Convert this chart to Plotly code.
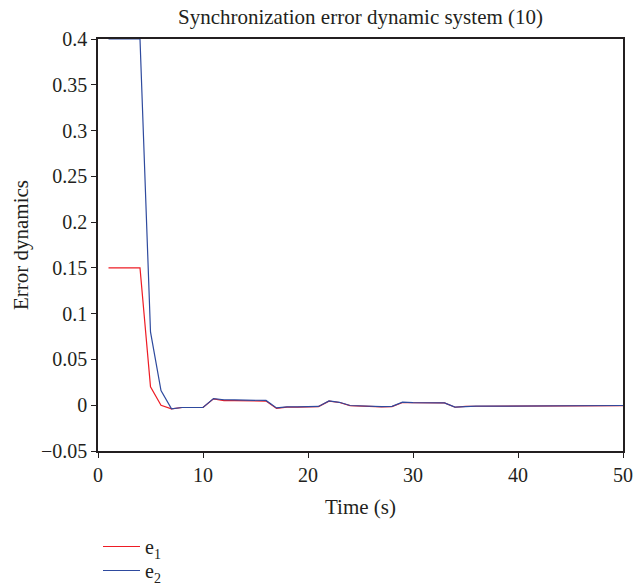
import plotly.graph_objects as go

time_s = list(range(1, 51))
e1 = [0.15, 0.15, 0.15, 0.15, 0.02, 0.0, -0.004, -0.0025, -0.0025, -0.0025,
      0.007, 0.005, 0.005, 0.005, 0.0047, 0.0045, -0.0035, -0.002, -0.002, -0.0018,
      -0.0015, 0.0045, 0.003, -0.0005, -0.001, -0.002, -0.0018, -0.0015, 0.003, 0.0027,
      0.0025, 0.0025, 0.0025, -0.0022, -0.0012, -0.0011, -0.0011, -0.001, -0.001, -0.0009,
      -0.0009, -0.0008, -0.0008, -0.0007, -0.0007, -0.0006, -0.0006, -0.0005, -0.0005, -0.0004]
e2 = [0.4, 0.4, 0.4, 0.4, 0.08, 0.016, -0.004, -0.0025, -0.0025, -0.0025,
      0.0072, 0.006, 0.0058, 0.0058, 0.0055, 0.0052, -0.003, -0.0018, -0.0018, -0.0016,
      -0.0013, 0.0047, 0.0032, -0.0003, -0.0008, -0.0018, -0.0016, -0.0012, 0.0033, 0.0029,
      0.0027, 0.0027, 0.0026, -0.002, -0.0011, -0.001, -0.001, -0.0009, -0.0009, -0.0008,
      -0.0008, -0.0007, -0.0007, -0.0006, -0.0006, -0.0005, -0.0005, -0.0004, -0.0004, -0.0003]

x_ticks = [0, 10, 20, 30, 40, 50]
y_ticks = [-0.05, 0, 0.05, 0.1, 0.15, 0.2, 0.25, 0.3, 0.35, 0.4]
y_tick_text = ["\u22120.05", "0", "0.05", "0.1", "0.15", "0.2", "0.25", "0.3", "0.35", "0.4"]

font_family = "Liberation Serif, DejaVu Serif, serif"

fig = go.Figure()
fig.add_trace(go.Scatter(x=time_s, y=e1, mode="lines", name="e<sub>1</sub>",
                         legend="legend",
                         line=dict(color="#ee1c25", width=1.2)))
fig.add_trace(go.Scatter(x=time_s, y=e2, mode="lines", name="e<sub>2</sub>",
                         legend="legend2",
                         line=dict(color="#2e4a9e", width=1.2)))

legend_common = dict(x=0.0, xref="paper", yref="container", xanchor="left",
                     yanchor="top", orientation="v", font=dict(size=20),
                     bgcolor="rgba(0,0,0,0)", itemwidth=37)

fig.update_layout(
    width=634, height=584,
    margin=dict(l=98, r=11, t=39, b=133),
    paper_bgcolor="white", plot_bgcolor="white",
    font=dict(family=font_family, size=20, color="#231f20"),
    title=dict(text="Synchronization error dynamic system (10)", x=0.5, xref="paper",
               y=0.9716, yanchor="middle", yref="container",
               font=dict(size=21)),
    showlegend=True,
    legend=dict(y=0.0976, **legend_common),
    legend2=dict(y=0.0565, **legend_common),
)
fig.update_xaxes(range=[0, 50], tickvals=x_ticks, showgrid=False, zeroline=False,
                 showline=True, linecolor="#231f20", linewidth=1.5, mirror=True,
                 ticks="outside", ticklen=5, tickcolor="#231f20", automargin=False,
                 tickfont=dict(size=20),
                 title=dict(text="Time (s)", standoff=15, font=dict(size=21)))
fig.update_yaxes(range=[-0.05, 0.4], tickvals=y_ticks, ticktext=y_tick_text,
                 showgrid=False, zeroline=False, automargin=False,
                 showline=True, linecolor="#231f20", linewidth=1.5, mirror=True,
                 ticks="outside", ticklen=5, tickcolor="#231f20",
                 tickfont=dict(size=20),
                 title=dict(text="Error dynamics", standoff=7, font=dict(size=21)))

# remove the browser's default 8px body margin so the figure fills the window
fig.write_html("out.html",
               config={"displayModeBar": False},
               post_script="document.body.style.margin='0';document.body.style.overflow='hidden';")
